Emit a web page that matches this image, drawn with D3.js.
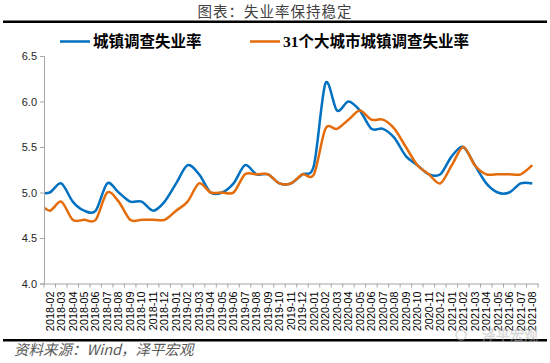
<!DOCTYPE html>
<html><head><meta charset="utf-8">
<script src="https://cdn.jsdelivr.net/npm/d3@7"></script>
<style>
html,body{margin:0;padding:0;background:#fff;}
svg{display:block;}
</style></head>
<body>
<svg id="chart" width="550" height="363"></svg>
<script>
// ---- data ----
const months = ["2018-02","2018-03","2018-04","2018-05","2018-06","2018-07","2018-08","2018-09","2018-10","2018-11","2018-12",
"2019-01","2019-02","2019-03","2019-04","2019-05","2019-06","2019-07","2019-08","2019-09","2019-10","2019-11","2019-12",
"2020-01","2020-02","2020-03","2020-04","2020-05","2020-06","2020-07","2020-08","2020-09","2020-10","2020-11","2020-12",
"2021-01","2021-02","2021-03","2021-04","2021-05","2021-06","2021-07","2021-08"];
const urbanRate = [5.0,5.1,4.9,4.8,4.8,5.1,5.0,4.9,4.9,4.8,4.9,
5.1,5.3,5.2,5.0,5.0,5.1,5.3,5.2,5.2,5.1,5.1,5.2,
5.3,6.2,5.9,6.0,5.9,5.7,5.7,5.6,5.4,5.3,5.2,5.2,
5.4,5.5,5.3,5.1,5.0,5.0,5.1,5.1];
const cityRate = [4.8,4.9,4.7,4.7,4.7,5.0,4.9,4.7,4.7,4.7,4.7,
4.8,4.9,5.1,5.0,5.0,5.0,5.2,5.2,5.2,5.1,5.1,5.2,
5.2,5.7,5.7,5.8,5.9,5.8,5.8,5.7,5.5,5.3,5.2,5.1,
5.3,5.5,5.3,5.2,5.2,5.2,5.2,5.3];
// preceding month (2018-01), only visible as the clipped lead-in of each line
const urbanLead = 5.0;
const cityLead = 4.9;
const yTicks = [4.0,4.5,5.0,5.5,6.0,6.5];
const seriesNames = ["城镇调查失业率","31个大城市城镇调查失业率"];
const colors = ["#0070C0","#E46C0A"];

const svg = d3.select("#chart");
const L = 44, R = 538, T = 56, B = 283.5;

const x = d3.scaleBand().domain(months).range([L, R]).padding(0);
const step = x.step();
const cx = m => x(m) + step / 2;
const y = d3.scaleLinear().domain([4.0, 6.5]).range([B, T]);

// title
svg.append("text").attr("x", 275).attr("y", 17).attr("text-anchor", "middle")
  .attr("font-family", "Noto Sans CJK SC").attr("font-size", 14.5).attr("letter-spacing", 1)
  .attr("fill", "#404040").text("图表：失业率保持稳定");
svg.append("rect").attr("x", 3).attr("y", 20.5).attr("width", 544).attr("height", 2.5).attr("fill", "#000");

// legend
const legX = [60, 250];
seriesNames.forEach((n, i) => {
  svg.append("line").attr("x1", legX[i]).attr("x2", legX[i] + 30).attr("y1", 41.5).attr("y2", 41.5)
    .attr("stroke", colors[i]).attr("stroke-width", 2.5);
  svg.append("text").attr("x", legX[i] + 33).attr("y", 47).attr("font-family", "Liberation Serif, Noto Sans CJK SC")
    .attr("font-weight", "bold").attr("font-size", 15.5).attr("fill", "#000").text(n);
});

// y axis
const yAxis = svg.append("g").attr("transform", `translate(${L},0)`)
  .call(d3.axisLeft(y).tickValues(yTicks).tickFormat(d3.format(".1f")).tickSize(4).tickPadding(3));
yAxis.select(".domain").attr("stroke", "#A6A6A6");
yAxis.selectAll(".tick line").attr("stroke", "#A6A6A6");
yAxis.selectAll(".tick text").attr("font-family", "Liberation Sans, Arial").attr("font-size", 11).attr("fill", "#262626");

// x axis
const xAxis = svg.append("g").attr("transform", `translate(0,${B})`)
  .call(d3.axisBottom(x).tickSize(0).tickSizeOuter(0));
xAxis.select(".domain").attr("stroke", "#A6A6A6");
xAxis.selectAll(".tick text")
  .attr("font-family", "Liberation Sans, Arial").attr("font-size", 10.8).attr("fill", "#000")
  .attr("text-anchor", "end").attr("transform", "rotate(-90)")
  .attr("x", -8).attr("y", 0).attr("dy", "0.35em");
xAxis.selectAll(".boundary").data(months.concat(["end"])).enter().append("line")
  .attr("class", "boundary")
  .attr("x1", (d, i) => i < months.length ? x(d) : R).attr("x2", (d, i) => i < months.length ? x(d) : R)
  .attr("y1", 0).attr("y2", 4).attr("stroke", "#A6A6A6");

// clip
svg.append("clipPath").attr("id", "plotclip").append("rect")
  .attr("x", L + 1).attr("y", 0).attr("width", R - L).attr("height", B);

const line = d3.line().x(d => d[0]).y(d => y(d[1])).curve(d3.curveCardinal.tension(0.1));
const leadX = cx(months[0]) - step;
[[urbanLead, urbanRate], [cityLead, cityRate]].forEach(([lead, vals], i) => {
  const pts = [[leadX, lead]].concat(months.map((m, j) => [cx(m), vals[j]]));
  svg.append("path").attr("clip-path", "url(#plotclip)").attr("d", line(pts))
    .attr("fill", "none").attr("stroke", colors[i]).attr("stroke-width", 2.5)
    .attr("stroke-linejoin", "round");
});

// bottom rule and source
svg.append("rect").attr("x", 3).attr("y", 339).attr("width", 544).attr("height", 2.5).attr("fill", "#000");
svg.append("text").attr("x", 14).attr("y", 355).attr("font-family", "Noto Sans CJK SC")
  .attr("font-style", "italic").attr("font-size", 14.5).attr("fill", "#595959").text("资料来源：Wind，泽平宏观");

// watermark
const wm = svg.append("g").attr("opacity", 0.55);
wm.append("circle").attr("cx", 461).attr("cy", 335).attr("r", 5).attr("fill", "none").attr("stroke", "#bbb").attr("stroke-width", 1.5);
wm.append("text").attr("x", 482).attr("y", 340).attr("font-family", "Noto Sans CJK SC").attr("font-size", 14)
  .attr("fill", "#ccc").attr("stroke", "#999").attr("stroke-width", 0.3).text("泽平宏观");
</script>
</body></html>
